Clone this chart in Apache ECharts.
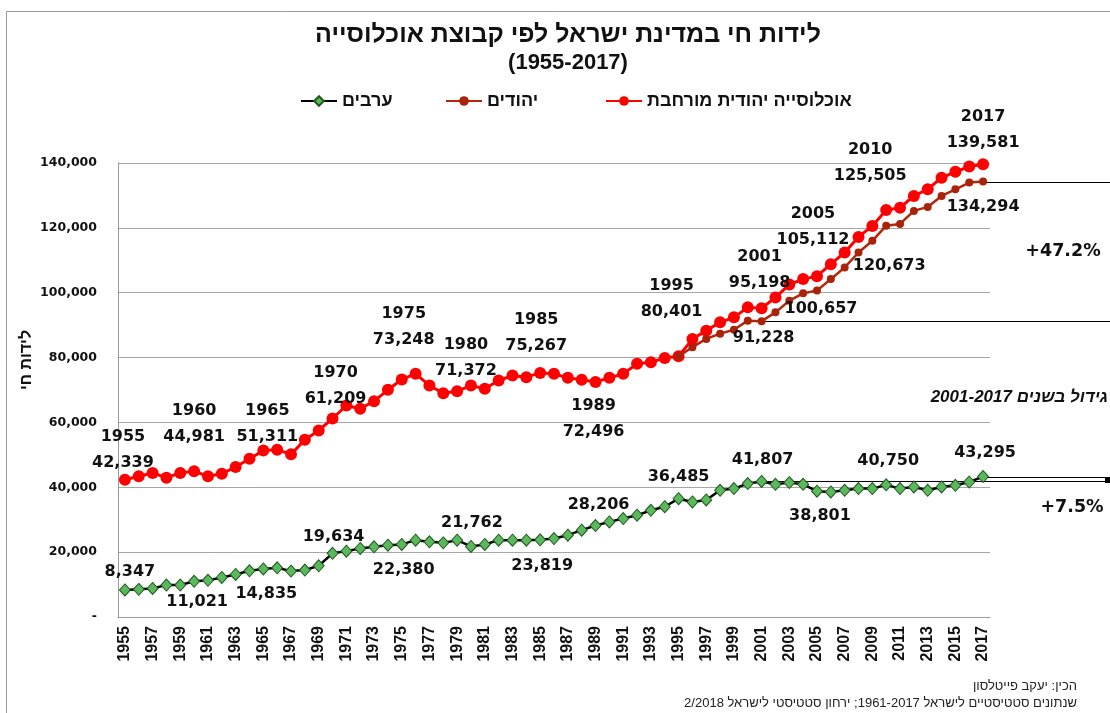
<!DOCTYPE html>
<html>
<head>
<meta charset="utf-8">
<script src="https://cdn.jsdelivr.net/npm/echarts@6/dist/echarts.min.js"></script>
<style>
  html, body { margin: 0; padding: 0; background: #fff; }
  #chart { width: 1110px; height: 713px; }
</style>
</head>
<body>
<div id="chart"></div>
<script>
// categories
const years = [1955, 1956, 1957, 1958, 1959, 1960, 1961, 1962, 1963, 1964,
  1965, 1966, 1967, 1968, 1969, 1970, 1971, 1972, 1973, 1974,
  1975, 1976, 1977, 1978, 1979, 1980, 1981, 1982, 1983, 1984,
  1985, 1986, 1987, 1988, 1989, 1990, 1991, 1992, 1993, 1994,
  1995, 1996, 1997, 1998, 1999, 2000, 2001, 2002, 2003, 2004,
  2005, 2006, 2007, 2008, 2009, 2010, 2011, 2012, 2013, 2014,
  2015, 2016, 2017]

// אוכלוסייה יהודית מורחבת
const extendedData = [42339, 43380, 44400, 42970, 44400, 44981, 43380, 44200, 46250, 48820,
  51311, 51600, 50150, 54670, 57540, 61209, 65230, 64200, 66560, 70060,
  73248, 75000, 71400, 69000, 69640, 71372, 70370, 72920, 74460, 73950,
  75267, 75000, 73750, 73140, 72496, 73750, 75000, 78060, 78560, 79900,
  80401, 85700, 88300, 90870, 92400, 95480, 95198, 98560, 102500, 104200,
  105112, 108800, 112400, 117200, 120600, 125505, 126200, 129850, 131900, 135480,
  137300, 138900, 139581]

// יהודים
const jewsData = [null, null, null, null, null, null, null, null, null, null,
  null, null, null, null, null, null, null, null, null, null,
  null, null, null, null, null, null, null, null, null, null,
  null, null, null, null, null, null, null, null, null, null,
  80401, 83200, 85750, 87380, 88600, 91380, 91228, 93940, 97540, 99800,
  100657, 104200, 107800, 112400, 116000, 120673, 121200, 125230, 126460, 129850,
  131900, 133950, 134294]

// ערבים
const arabsData = [8347, 8520, 8820, 9850, 9850, 11021, 11300, 12210, 13130, 14250,
  14835, 15170, 14150, 14460, 15790, 19634, 20310, 21130, 21630, 22150,
  22380, 23690, 23170, 22860, 23690, 21762, 22370, 23690, 23690, 23690,
  23819, 24200, 25230, 26770, 28206, 29330, 30370, 31380, 32900, 34000,
  36485, 35480, 36100, 39080, 39600, 41140, 41807, 40920, 41440, 40920,
  38801, 38550, 39080, 39600, 39600, 40750, 39600, 40100, 39080, 40100,
  40600, 41630, 43295]

const yTickLabels = ['-', '20,000', '40,000', '60,000', '80,000', '100,000', '120,000', '140,000']

const extendedLabelYears = [1955, 1960, 1965, 1970, 1975, 1980, 1985, 1989, 1995, 2001, 2005, 2010, 2017]
const jewsLabelYears = [2001, 2005, 2010, 2017]
const arabsLabelYears = [1955, 1960, 1965, 1970, 1975, 1980, 1985, 1989, 1995, 2001, 2005, 2010, 2017]

// label offsets (px, from the point centre)
const extendedOffsets = {1955: [-2, -30], 1960: [0, -47], 1965: [4, -27], 1970: [3, -33], 1975: [2, -53],
  1980: [-5, -28], 1985: [-4, -40], 1989: [-2, 37], 1995: [-7, -57], 2001: [-2, -38],
  2005: [-4, -49], 2010: [-16, -47], 2017: [0, -35]}
const jewsOffsets = {2001: [2, 17], 2005: [4, 18], 2010: [3, 40], 2017: [0, 25]}
const arabsOffsets = {1955: [5, -18], 1960: [3, 21], 1965: [3, 25], 1970: [1, -16], 1975: [2, 25],
  1980: [1, -24], 1985: [2, 26], 1989: [3, -21], 1995: [0, -22], 2001: [1, -22],
  2005: [3, 25], 2010: [2, -24], 2017: [2, -24]}

const fmt = v => v.toLocaleString('en-US')

function withLabels(values, labelYears, offsets, withYear) {
  return values.map((v, i) => {
    const yr = years[i]
    if (v == null || labelYears.indexOf(yr) < 0) return v
    return {
      value: v,
      label: {
        show: true,
        offset: offsets[yr],
        formatter: withYear ? yr + '\n' + fmt(v) : fmt(v),
      },
    }
  })
}

const labelStyle = {
  show: false,
  position: 'inside',
  fontFamily: 'DejaVu Sans',
  fontWeight: 'bold',
  fontSize: 16,
  lineHeight: 26,
  color: '#111',
}

const chart = echarts.init(document.getElementById('chart'))

chart.setOption({
  animation: false,
  backgroundColor: '#fff',
  title: {
    text: 'לידות חי במדינת ישראל לפי קבוצת אוכלוסייה',
    subtext: '(1955-2017)',
    left: 563,
    textAlign: 'center',
    top: 18,
    itemGap: 4,
    textStyle: {fontFamily: 'Liberation Sans', fontWeight: 'bold', fontSize: 25, color: '#111'},
    subtextStyle: {fontFamily: 'Liberation Sans', fontWeight: 'bold', fontSize: 22, color: '#111'},
  },
  legend: [
    {data: ['ערבים'], left: 295, top: 87},
    {data: ['יהודים'], left: 440, top: 87},
    {data: ['אוכלוסייה יהודית מורחבת'], left: 600, top: 87},
  ].map(l => Object.assign(l, {
    itemWidth: 36,
    itemHeight: 12,
    itemGap: 4,
    textStyle: {fontFamily: 'Liberation Sans', fontWeight: 'bold', fontSize: 18, color: '#111'},
  })),
  grid: {
    left: 118,
    right: 120,
    top: 163,
    bottom: 96,
    containLabel: false,
    outerBoundsMode: 'none',
  },
  xAxis: {
    type: 'category',
    data: years.map(String),
    axisLine: {lineStyle: {color: '#999', width: 1}},
    axisTick: {show: false},
    axisLabel: {
      interval: 1,
      rotate: 90,
      margin: 9,
      fontFamily: 'Liberation Sans',
      fontWeight: 'bold',
      fontSize: 16,
      color: '#111',
    },
  },
  yAxis: {
    type: 'value',
    min: 0,
    max: 140000,
    interval: 20000,
    axisLine: {show: true, lineStyle: {color: '#999', width: 1}},
    axisTick: {show: false},
    splitLine: {lineStyle: {color: '#a6a6a6', width: 1}},
    axisLabel: {
      margin: 21,
      fontFamily: 'DejaVu Sans',
      fontWeight: 'bold',
      fontSize: 12.5,
      color: '#111',
      formatter: v => yTickLabels[Math.round(v / 20000)],
    },
  },
  series: [
    {
      name: 'אוכלוסייה יהודית מורחבת',
      type: 'line',
      data: withLabels(extendedData, extendedLabelYears, extendedOffsets, true),
      symbol: 'circle',
      symbolSize: 12,
      showAllSymbol: true,
      lineStyle: {color: '#ff0000', width: 3},
      itemStyle: {color: '#ff0000'},
      label: labelStyle,
      z: 2,
    },
    {
      name: 'יהודים',
      type: 'line',
      data: withLabels(jewsData, jewsLabelYears, jewsOffsets, false),
      symbol: 'circle',
      symbolSize: 8,
      showAllSymbol: true,
      lineStyle: {color: '#b3260c', width: 2.5},
      itemStyle: {color: '#a8230a'},
      label: labelStyle,
      z: 3,
    },
    {
      name: 'ערבים',
      type: 'line',
      data: withLabels(arabsData, arabsLabelYears, arabsOffsets, false),
      symbol: 'diamond',
      symbolSize: [11, 12],
      showAllSymbol: true,
      lineStyle: {color: '#000', width: 2.5},
      itemStyle: {color: '#5cb85c', borderColor: '#1f5a1f', borderWidth: 1},
      label: labelStyle,
      z: 4,
    },
  ],
})

// growth annotations, placed through the chart's own scales
const px = (yr, v) => chart.convertToPixel({gridIndex: 0}, [years.indexOf(yr), v])
const j01 = px(2001, jewsData[years.indexOf(2001)])
const j17 = px(2017, jewsData[years.indexOf(2017)])
const a01 = px(2001, arabsData[years.indexOf(2001)])
const a17 = px(2017, arabsData[years.indexOf(2017)])
const hline = (p) => ({
  type: 'line',
  shape: {x1: p[0], y1: Math.round(p[1]) + 0.5, x2: 1110, y2: Math.round(p[1]) + 0.5},
  style: {stroke: '#000', lineWidth: 1},
  z: 1,
})
const txt = (x, y, text, extra) => ({
  type: 'text',
  x: x,
  y: y,
  style: Object.assign({
    text: text,
    fill: '#111',
    align: 'center',
    verticalAlign: 'middle',
    fontFamily: 'Liberation Sans',
    fontWeight: 'bold',
    fontSize: 19,
  }, extra || {}),
  z: 10,
})
const pct = {fontFamily: 'DejaVu Sans', fontSize: 17.5}

chart.setOption({
  graphic: [
    {
      type: 'polyline',
      shape: {points: [[6.5, 713], [6.5, 11.5], [1110, 11.5]]},
      style: {stroke: '#9a9a9a', lineWidth: 1, fill: null},
    },
    hline(j01),
    hline(j17),
    hline(a01),
    hline(a17),
    {
      type: 'rect',
      shape: {x: 1105, y: Math.round(a17[1]), width: 5, height: Math.round(a01[1] - a17[1]) + 1},
      style: {fill: '#000'},
      z: 2,
    },
    txt(1063, (j01[1] + j17[1]) / 2, '+47.2%', pct),
    txt(1072, a01[1] + 26, '+7.5%', pct),
    txt(1108, 397, '\u202Bגידול בשנים 2001-2017\u202C', {align: 'right', fontStyle: 'italic', fontSize: 17}),
    Object.assign(txt(27, 360, 'לידות חי', {fontSize: 16}), {rotation: Math.PI / 2}),
    txt(1077, 686, 'הכין: יעקב פייטלסון',
      {align: 'right', fontWeight: 'normal', fontSize: 13, fill: '#222'}),
    txt(1077, 703, '\u202Bשנתונים סטטיסטיים לישראל 1961-2017; ירחון סטטיסטי לישראל 2/2018\u202C',
      {align: 'right', fontWeight: 'normal', fontSize: 13, fill: '#222'}),
  ],
})
</script>
</body>
</html>
